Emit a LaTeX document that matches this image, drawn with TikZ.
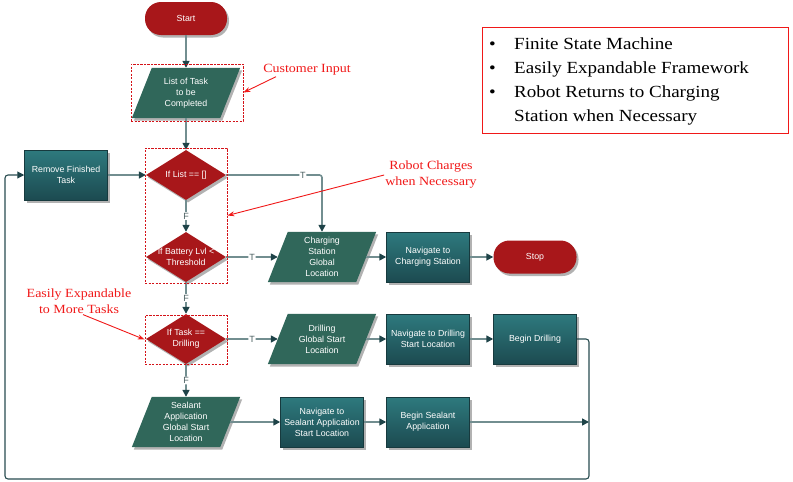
\documentclass[tikz,border=0pt]{standalone}
\usepackage{fontspec}
\setsansfont{Liberation Sans}
\newfontfamily\annofont{Liberation Serif}[FakeStretch=1.12]
\usetikzlibrary{shapes.geometric,arrows.meta,shadows,backgrounds}
\definecolor{redfill}{HTML}{A8171A}
\definecolor{proctop}{HTML}{2E7A7E}
\definecolor{procbot}{HTML}{1C4A50}
\definecolor{procedge}{HTML}{173A3E}
\definecolor{iofill}{HTML}{30675A}
\definecolor{connc}{HTML}{728E90}
\definecolor{tipc}{HTML}{1E4348}
\definecolor{loopc}{HTML}{284C50}
\definecolor{annored}{HTML}{F01818}
\definecolor{groupred}{HTML}{D41218}
\definecolor{tfc}{HTML}{4A5F60}
\begin{document}
\begin{tikzpicture}[x=1pt,y=-1pt,
  myshadow/.style={drop shadow={shadow xshift=2pt,shadow yshift=-2.5pt,opacity=0.3,fill=black}},
  ntext/.style={text=white,font=\sffamily\fontsize{8.8}{11}\selectfont,align=center},
  procbox/.style={rectangle,minimum width=83,minimum height=50,inner sep=1pt,top color=proctop,bottom color=procbot,draw=procedge,line width=0.5,ntext,myshadow},
  iobox/.style={rectangle,minimum width=108,minimum height=50,inner sep=0pt,ntext},
  decision/.style={diamond,minimum width=80,minimum height=50,inner sep=0pt,fill=redfill,myshadow},
  dtext/.style={ntext,inner sep=0pt},
  pill/.style={rectangle,rounded corners=16pt,minimum width=82,minimum height=33,fill=redfill,ntext,myshadow},
  conn/.style={draw=connc,line width=1.6,rounded corners=2.5pt,-{Triangle[length=7pt,width=7pt,color=tipc]}},
  loopline/.style={draw=loopc,line width=1.1,rounded corners=3pt,-{Triangle[length=7pt,width=7pt,color=tipc]}},
  tf/.style={fill=white,text=tfc,inner sep=0.8pt,font=\sffamily\fontsize{9}{10}\selectfont},
  groupbox/.style={rectangle,draw=groupred,line width=0.9,dash pattern=on 2.2pt off 1.3pt,inner sep=0pt},
  anno/.style={text=annored,font=\annofont\fontsize{12.5}{16}\selectfont,align=center,inner sep=1pt},
  annoarrow/.style={draw=annored,line width=0.9,-{Stealth[length=7pt,width=5pt]}}
]
\useasboundingbox (0,0) rectangle (793,482);

% main column
\node[pill] (start) at (186,18.5) {Start};
\node[iobox] (list) at (186,93) {List of Task\\to be\\Completed};
\node[decision] (d1) at (186,175) {};
\node[dtext] (d1t) at (d1) {If List == []};
\node[decision] (d2) at (186,257) {};
\node[dtext] (d2t) at (d2) {If Battery Lvl <\\Threshold};
\node[decision] (d3) at (186,339) {};
\node[dtext] (d3t) at (d3) {If Task ==\\Drilling};
\node[iobox] (sealloc) at (186,422) {Sealant\\Application\\Global Start\\Location};

\node[procbox] (remove) at (66,175) {Remove Finished\\Task};

% charging row
\node[iobox] (charge) at (322,257) {Charging\\Station\\Global\\Location};
\node[procbox] (navcharge) at (428,257) {Navigate to\\Charging Station};
\node[pill,minimum width=83] (stop) at (535,257) {Stop};

% drilling row
\node[iobox] (drillloc) at (322,339) {Drilling\\Global Start\\Location};
\node[procbox] (navdrill) at (428,339) {Navigate to Drilling\\Start Location};
\node[procbox] (begindrill) at (535,339) {Begin Drilling};

% sealant row
\node[procbox] (navseal) at (322,422) {Navigate to\\Sealant Application\\Start Location};
\node[procbox] (beginseal) at (428,422) {Begin Sealant\\Application};

% parallelogram bodies
\begin{scope}[on background layer]
\foreach \n in {list,charge,drillloc,sealloc}{
  \fill[iofill,myshadow] ([xshift=20pt]\n.north west) -- (\n.north east)
     -- ([xshift=-20pt]\n.south east) -- (\n.south west) -- cycle;
}
\end{scope}

% loop coordinates
\coordinate (rj) at (589,422);
\coordinate (loopa) at (589,479);
\coordinate (loopb) at (5,479);

% connectors
\draw[conn] (start) -- (list.north);
\draw[conn] (list.south) -- (d1.north);
\draw[conn] (remove.east) -- (d1.west);
\draw[conn] (d1.east) -| node[tf,pos=0.4] (t1) {T} (charge.north);
\draw[conn] (d1.south) -- node[tf] (f1) {F} (d2.north);
\draw[conn] (d2.east) -- node[tf] (t2) {T} ([xshift=10pt]charge.west);
\draw[conn] (d2.south) -- node[tf] (f2) {F} (d3.north);
\draw[conn] (d3.east) -- node[tf] (t3) {T} ([xshift=10pt]drillloc.west);
\draw[conn] (d3.south) -- node[tf] (f3) {F} (sealloc.north);
\draw[conn] ([xshift=-10pt]charge.east) -- (navcharge.west);
\draw[conn] (navcharge.east) -- (stop.west);
\draw[conn] ([xshift=-10pt]drillloc.east) -- (navdrill.west);
\draw[conn] (navdrill.east) -- (begindrill.west);
\draw[conn] ([xshift=-10pt]sealloc.east) -- (navseal.west);
\draw[conn] (navseal.east) -- (beginseal.west);
\draw[conn] (beginseal.east) -- (rj);
\draw[loopline] (begindrill.east) -| (loopa) -- (loopb) |- (remove.west);

% dashed group boxes
\node[groupbox,minimum width=112,minimum height=57] (box1) at (187,92.5) {};
\node[groupbox,minimum width=82,minimum height=135] (box2) at (186,215.5) {};
\node[groupbox,minimum width=82,minimum height=49] (box3) at (186,339.5) {};

% annotations
\node[anno] (ci) at (307,70) {Customer Input};
\draw[annoarrow] ([xshift=14pt]ci.south west) -- (box1.east);
\node[anno] (rc) at (431,175) {Robot Charges\\when Necessary};
\draw[annoarrow] (rc.west) -- (box2.east);
\node[anno] (ee) at (79,301) {Easily Expandable\\to More Tasks};
\draw[annoarrow] ([xshift=4pt]ee.south) -- (box3.west);

% notes box
\node[draw=annored,line width=0.9,minimum width=306,minimum height=106,anchor=north west,inner sep=0pt] (notes) at (482,27) {};
\node[anchor=base west,inner sep=0pt,font=\annofont\fontsize{17}{24}\selectfont] (bullets) at (489,49)
 {\begin{tabular}[t]{@{}p{25pt}@{}l@{}}
  \textbullet & Finite State Machine\\
  \textbullet & Easily Expandable Framework\\
  \textbullet & Robot Returns to Charging\\
   & Station when Necessary
 \end{tabular}};
\end{tikzpicture}
\end{document}
